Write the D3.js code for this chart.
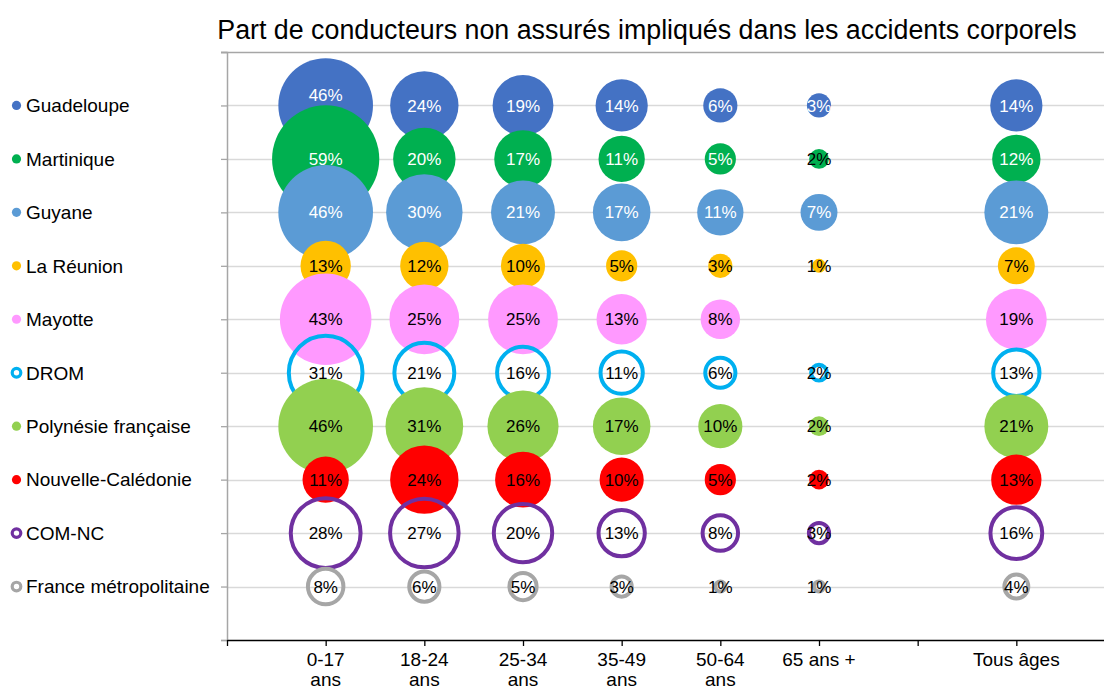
<!DOCTYPE html>
<html lang="fr">
<head>
<meta charset="utf-8">
<script src="https://cdn.jsdelivr.net/npm/d3@7"></script>
<style>
  html, body { margin: 0; padding: 0; background: #fff; }
  svg { display: block; font-family: "Liberation Sans", Arial, sans-serif; }
</style>
</head>
<body>
<svg id="chart" width="1104" height="689"></svg>
<script>
// Age groups (x slot 7 is left blank before the all-ages column)
const ageGroups = ["0-17 ans", "18-24 ans", "25-34 ans", "35-49 ans", "50-64 ans", "65 ans +", "Tous âges"];
const agePositions = [1, 2, 3, 4, 5, 6, 8];

// Territories, top to bottom
const territories = ["Guadeloupe", "Martinique", "Guyane", "La Réunion", "Mayotte", "DROM",
  "Polynésie française", "Nouvelle-Calédonie", "COM-NC", "France métropolitaine"];

// Share of uninsured drivers (%) per age group, one array per territory
const guadeloupe  = [46, 24, 19, 14, 6, 3, 14];
const martinique  = [59, 20, 17, 11, 5, 2, 12];
const guyane      = [46, 30, 21, 17, 11, 7, 21];
const reunion     = [13, 12, 10, 5, 3, 1, 7];
const mayotte     = [43, 25, 25, 13, 8, null, 19];
const drom        = [31, 21, 16, 11, 6, 2, 13];
const polynesie   = [46, 31, 26, 17, 10, 2, 21];
const caledonie   = [11, 24, 16, 10, 5, 2, 13];
const comNc       = [28, 27, 20, 13, 8, 3, 16];
const metropole   = [8, 6, 5, 3, 1, 1, 4];

const seriesValues = [guadeloupe, martinique, guyane, reunion, mayotte, drom,
  polynesie, caledonie, comNc, metropole];

// Appearance: filled bubbles vs. outlined aggregates
const seriesColors = ["#4472C4", "#00B050", "#5B9BD5", "#FFC000", "#FF99FF", "#00B0F0",
  "#92D050", "#FF0000", "#7030A0", "#A6A6A6"];
const seriesOutlined = [false, false, false, false, false, true, false, false, true, true];
const seriesLightText = [true, true, true, false, false, false, false, false, false, false];

const W = 1104, H = 689;
const svg = d3.select("#chart");

const x = d3.scaleLinear().domain([0, 9]).range([227, 1115]);
const y = d3.scaleLinear().domain([0, 11]).range([640, 52]);
const r = d3.scaleSqrt().domain([0, 59]).range([0, 53.6]);

const rowOf = i => territories.length - i; // first territory on top

// Horizontal gridlines
const gridRows = d3.range(1, 11);
svg.append("g").selectAll("line").data(gridRows).join("line")
  .attr("x1", x(0)).attr("x2", W)
  .attr("y1", d => Math.round(y(d)) + 0.5).attr("y2", d => Math.round(y(d)) + 0.5)
  .attr("stroke", "#D9D9D9").attr("stroke-width", 1.3);

// Top frame line
svg.append("line")
  .attr("x1", x(0) - 6).attr("x2", W)
  .attr("y1", Math.round(y(11)) + 0.5).attr("y2", Math.round(y(11)) + 0.5)
  .attr("stroke", "#A6A6A6").attr("stroke-width", 1.5);

// Left axis with outward ticks, no labels
const yAxis = d3.axisLeft(y).tickValues(d3.range(0, 12)).tickSize(6).tickFormat("");
const gy = svg.append("g").attr("transform", `translate(${x(0)},0)`).call(yAxis);
gy.select(".domain").attr("stroke", "#A6A6A6").attr("stroke-width", 1.5);
gy.selectAll(".tick line").attr("stroke", "#A6A6A6").attr("stroke-width", 1.3);

// Bottom axis
const xAxis = d3.axisBottom(x).tickValues(d3.range(0, 9)).tickSize(6).tickSizeOuter(0).tickFormat("");
const gx = svg.append("g").attr("transform", `translate(0,${y(0)})`).call(xAxis);
gx.select(".domain").attr("stroke", "#000").attr("stroke-width", 1.3);
gx.selectAll(".tick line").attr("stroke", "#000").attr("stroke-width", 1.3);

// Category labels (age groups ending in "ans" wrap onto two lines)
const xl = svg.append("g").attr("font-size", 19).attr("fill", "#000").attr("text-anchor", "middle");
ageGroups.forEach((label, j) => {
  const t = xl.append("text").attr("x", x(agePositions[j])).attr("y", 666);
  const m = label.match(/^(\d+-\d+) (ans)$/);
  if (m) {
    t.append("tspan").attr("x", x(agePositions[j])).text(m[1]);
    t.append("tspan").attr("x", x(agePositions[j])).attr("dy", 20).text(m[2]);
  } else {
    t.text(label);
  }
});

// Bubbles, later series drawn over earlier ones
const points = [];
seriesValues.forEach((vals, i) => {
  vals.forEach((v, j) => {
    if (v == null) return;
    points.push({ s: i, j, v, cx: x(agePositions[j]), cy: y(rowOf(i)) });
  });
});

const bubbles = svg.append("g");
const OUT_W = 4;
points.forEach(p => {
  const c = bubbles.append("circle").attr("cx", p.cx).attr("cy", p.cy);
  if (seriesOutlined[p.s]) {
    c.attr("r", Math.max(r(p.v) - OUT_W / 2, 1)).attr("fill", "none")
      .attr("stroke", seriesColors[p.s]).attr("stroke-width", OUT_W);
  } else {
    c.attr("r", r(p.v)).attr("fill", seriesColors[p.s]);
  }
});

// Value labels on top of every bubble
const labels = svg.append("g").attr("font-size", 17).attr("text-anchor", "middle");
points.forEach(p => {
  const light = seriesLightText[p.s] && p.v >= 3;
  // the largest Guadeloupe label sits a little higher to clear the bubble below
  const nudge = (p.s === 0 && p.j === 0) ? -11 : 0;
  labels.append("text")
    .attr("x", p.cx).attr("y", p.cy + nudge).attr("dy", "0.36em")
    .attr("fill", light ? "#fff" : "#000")
    .text(p.v + "%");
});

// Legend down the left side, one entry per row
const legend = svg.append("g");
territories.forEach((name, i) => {
  const cy = y(rowOf(i));
  const g = legend.append("g");
  if (seriesOutlined[i]) {
    g.append("circle").attr("cx", 16.5).attr("cy", cy).attr("r", 4.3)
      .attr("fill", "#fff").attr("stroke", seriesColors[i]).attr("stroke-width", 3.2);
  } else {
    g.append("circle").attr("cx", 16.5).attr("cy", cy).attr("r", 4.6).attr("fill", seriesColors[i]);
  }
  g.append("text").attr("x", 26).attr("y", cy).attr("dy", "0.36em")
    .attr("font-size", 19).attr("fill", "#000").text(name);
});

// Title
svg.append("text")
  .attr("x", 647).attr("y", 39).attr("text-anchor", "middle")
  .attr("font-size", 26.8).attr("fill", "#000")
  .text("Part de conducteurs non assurés impliqués dans les accidents corporels");
</script>
</body>
</html>
